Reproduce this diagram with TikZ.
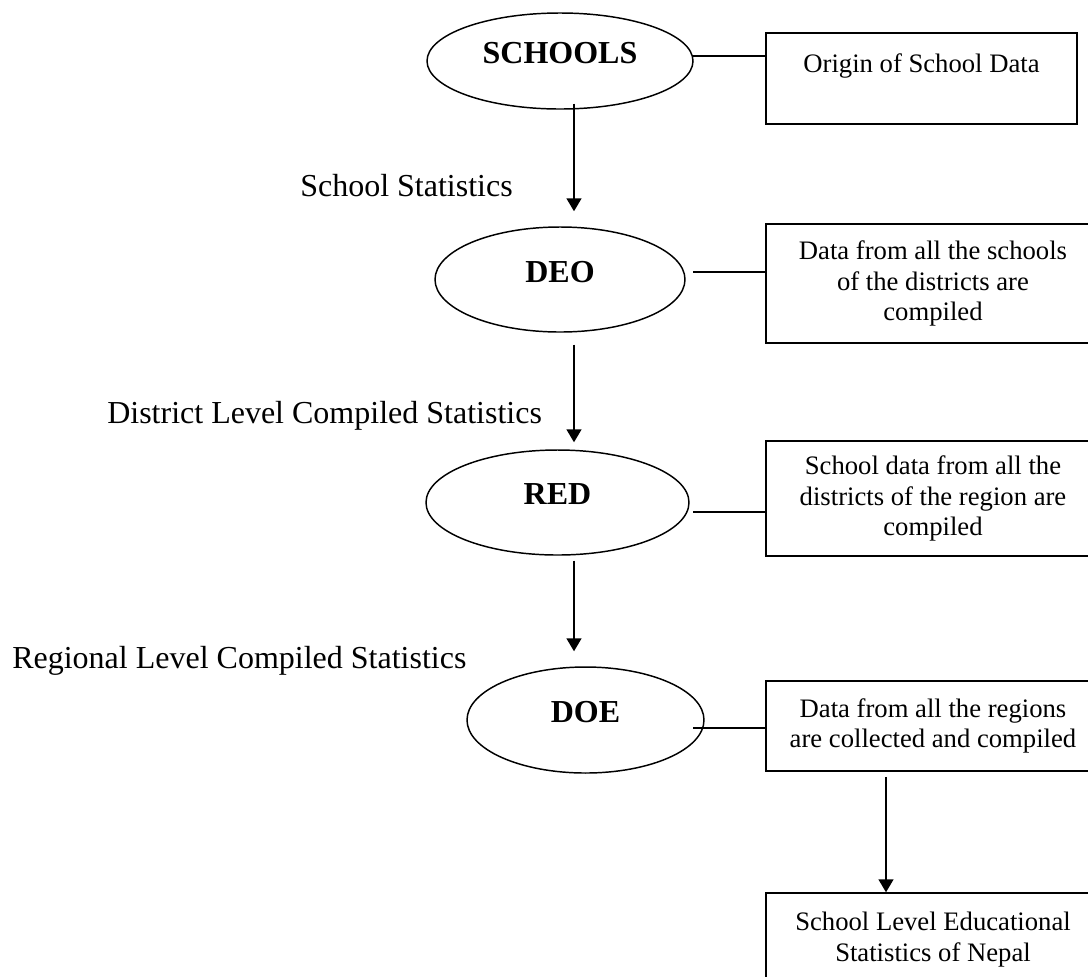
\documentclass[tikz,border=0pt]{standalone}
\usepackage{fontspec}
\setmainfont{Liberation Serif}
\usetikzlibrary{shapes.geometric,arrows.meta}

\begin{document}
\begin{tikzpicture}[x=0.75pt,y=0.75pt,yscale=-1,xscale=1,
  office/.style={draw, ellipse, line width=1.1pt, inner sep=0pt, text depth=12pt, font=\fontsize{24}{28}\selectfont\bfseries},
  note/.style={draw, rectangle, line width=1.1pt, inner sep=0pt, align=center, font=\fontsize{20}{23}\selectfont},
  flowlabel/.style={anchor=base west, inner sep=0pt, font=\fontsize{24}{28}\selectfont},
  flow/.style={line width=1.1pt, -{Triangle[length=9.75pt,width=11.25pt]}},
  link/.style={line width=1.1pt}]
%set diagram size to 1088 x 976
\useasboundingbox (0,0) rectangle (1088,976);

%Shape: Ellipse [schools]
\node[office, minimum width=199.5pt, minimum height=72pt] (schools) at (560,61) {SCHOOLS};
%Shape: Ellipse [deo]
\node[office, minimum width=187.5pt, minimum height=78.75pt] (deo) at (560,279.5) {DEO};
%Shape: Ellipse [red]
\node[office, minimum width=197.25pt, minimum height=78.75pt] (red) at (557.5,502.5) {RED};
%Shape: Ellipse [doe]
\node[office, minimum width=177.75pt, minimum height=79.5pt] (doe) at (585.5,720) {DOE};

%Shape: Rectangle [notes]
\node[note, minimum width=233.25pt, minimum height=68.25pt] (origin) at (921.5,78.5) {Origin of School Data\\ \mbox{}};
\node[note, minimum width=250.5pt, minimum height=89.25pt] (deobox) at (933,283.5) {Data from all the schools\\ of the districts are\\ compiled};
\node[note, minimum width=250.5pt, minimum height=86.25pt] (redbox) at (933,498.5) {School data from all the\\ districts of the region are\\ compiled};
\node[note, minimum width=250.5pt, minimum height=67.5pt] (doebox) at (933,726) {Data from all the regions\\ are collected and compiled};
\node[note, minimum width=250.5pt, minimum height=69.75pt] (result) at (933,939.5) {School Level Educational\\ Statistics of Nepal};

%Straight Lines [ellipse to note]
\coordinate (l1) at (693,56);
\coordinate (l2) at (693,272);
\coordinate (l3) at (693,512);
\coordinate (l4) at (693,728);
\draw[link] (l1) -- (l1 -| origin.west);
\draw[link] (l2) -- (l2 -| deobox.west);
\draw[link] (l3) -- (l3 -| redbox.west);
\draw[link] (l4) -- (l4 -| doebox.west);

%Straight Lines [flow arrows]
\coordinate (axis) at (574,0);
\coordinate (tap) at (886,0);
\draw[flow, shorten <=-4.5pt, shorten >=11.25pt] (schools.south -| axis) -- (deo.north -| axis);
\draw[flow, shorten <=9pt, shorten >=5.25pt] (deo.south -| axis) -- (red.north -| axis);
\draw[flow, shorten <=3.75pt, shorten >=11.25pt] (red.south -| axis) -- (doe.north -| axis);
\draw[flow, shorten <=3.75pt] (doebox.south -| tap) -- (result.north -| tap);

% Text Node
\node[flowlabel] (lab1) at (300,196) {School Statistics};
% Text Node
\node[flowlabel] (lab2) at (107,423) {District Level Compiled Statistics};
% Text Node
\node[flowlabel] (lab3) at (12,668) {Regional Level Compiled Statistics};

\end{tikzpicture}
\end{document}
